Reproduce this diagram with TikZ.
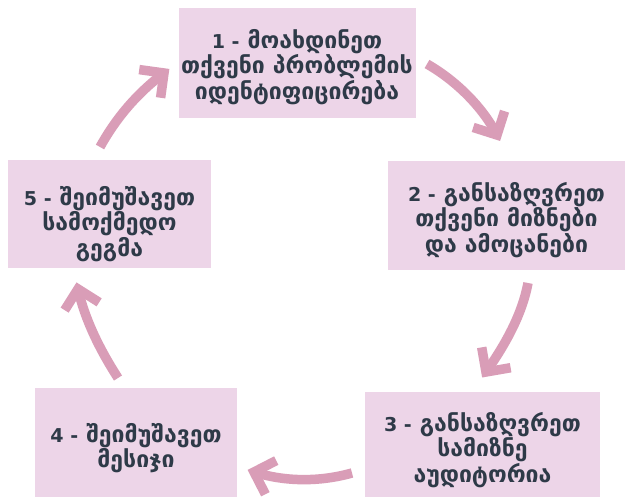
\documentclass[tikz,border=0pt]{standalone}
\usepackage{fontspec}
\setmainfont{DejaVu Sans}
\newfontfamily\numfont{DejaVu Sans}[Scale=0.83]
\usetikzlibrary{calc}
\definecolor{boxfill}{HTML}{EDD5E8}
\definecolor{arrowc}{HTML}{D99DB7}
\definecolor{txt}{HTML}{2E3A48}
\newcommand{\stepnum}[1]{{\numfont #1}}
\tikzset{
  stepbox/.style={fill=boxfill, draw=none, inner sep=0pt},
  steptext/.style={inner sep=0pt, align=center, text=txt,
    font=\bfseries\fontsize{23}{24}\selectfont},
  arrowline/.style={draw=arrowc, line width=9.5pt, line cap=butt, line join=miter}
}
\newcommand{\chev}[3]{% tip, back-point, length
  \draw[arrowline] ($(#1)!#3!45:(#2)$) -- (#1) -- ($(#1)!#3!-45:(#2)$);}
\begin{document}
\begin{tikzpicture}[x=1pt,y=-1pt]
\useasboundingbox (0,0) rectangle (625,497);
\fill[white] (0,0) rectangle (625,497);
% boxes
\node[stepbox, minimum width=237pt, minimum height=110pt] (b1) at (297,63) {};
\node[stepbox, minimum width=237pt, minimum height=109pt] (b2) at (506.5,215.5) {};
\node[stepbox, minimum width=235pt, minimum height=116pt] (b3) at (482.5,450) {};
\node[stepbox, minimum width=202pt, minimum height=116pt] (b4) at (136,446) {};
\node[stepbox, minimum width=203pt, minimum height=108pt] (b5) at (109.5,214) {};
% texts
\node[steptext] (t1) at (297,67)
  {\stepnum{1 -} მოახდინეთ\\თქვენი პრობლემის\\იდენტიფიცირება};
\node[steptext] (t2) at (506.5,220)
  {\stepnum{2 -} განსაზღვრეთ\\თქვენი მიზნები\\და ამოცანები};
\node[steptext] (t3) at (482.5,450)
  {\stepnum{3 -} განსაზღვრეთ\\სამიზნე\\აუდიტორია};
\node[steptext] (t4) at (136,448)
  {\stepnum{4 -} შეიმუშავეთ\\მესიჯი};
\node[steptext] (t5) at (109.5,224)
  {\stepnum{5 -} შეიმუშავეთ\\სამოქმედო\\გეგმა};
% arrow coordinates
\coordinate (s1) at (427,64);  \coordinate (c1a) at (455,80);  \coordinate (c1b) at (482,106); \coordinate (t1) at (497,135);
\coordinate (s2) at (528,283); \coordinate (c2a) at (522,315); \coordinate (c2b) at (505,345); \coordinate (t2) at (486,372);
\coordinate (s3) at (352,473); \coordinate (c3a) at (320,482); \coordinate (c3b) at (285,482); \coordinate (t3) at (254,472);
\coordinate (s4) at (118,378); \coordinate (c4a) at (100,350); \coordinate (c4b) at (85,320);  \coordinate (t4) at (78,289);
\coordinate (s5) at (100,147); \coordinate (c5a) at (115,120); \coordinate (c5b) at (135,95);  \coordinate (t5) at (164,73);
\foreach \i in {1,...,5}{
  \draw[arrowline] (s\i) .. controls (c\i a) and (c\i b) .. (t\i);
  \chev{t\i}{c\i b}{25pt}
}
\end{tikzpicture}
\end{document}
